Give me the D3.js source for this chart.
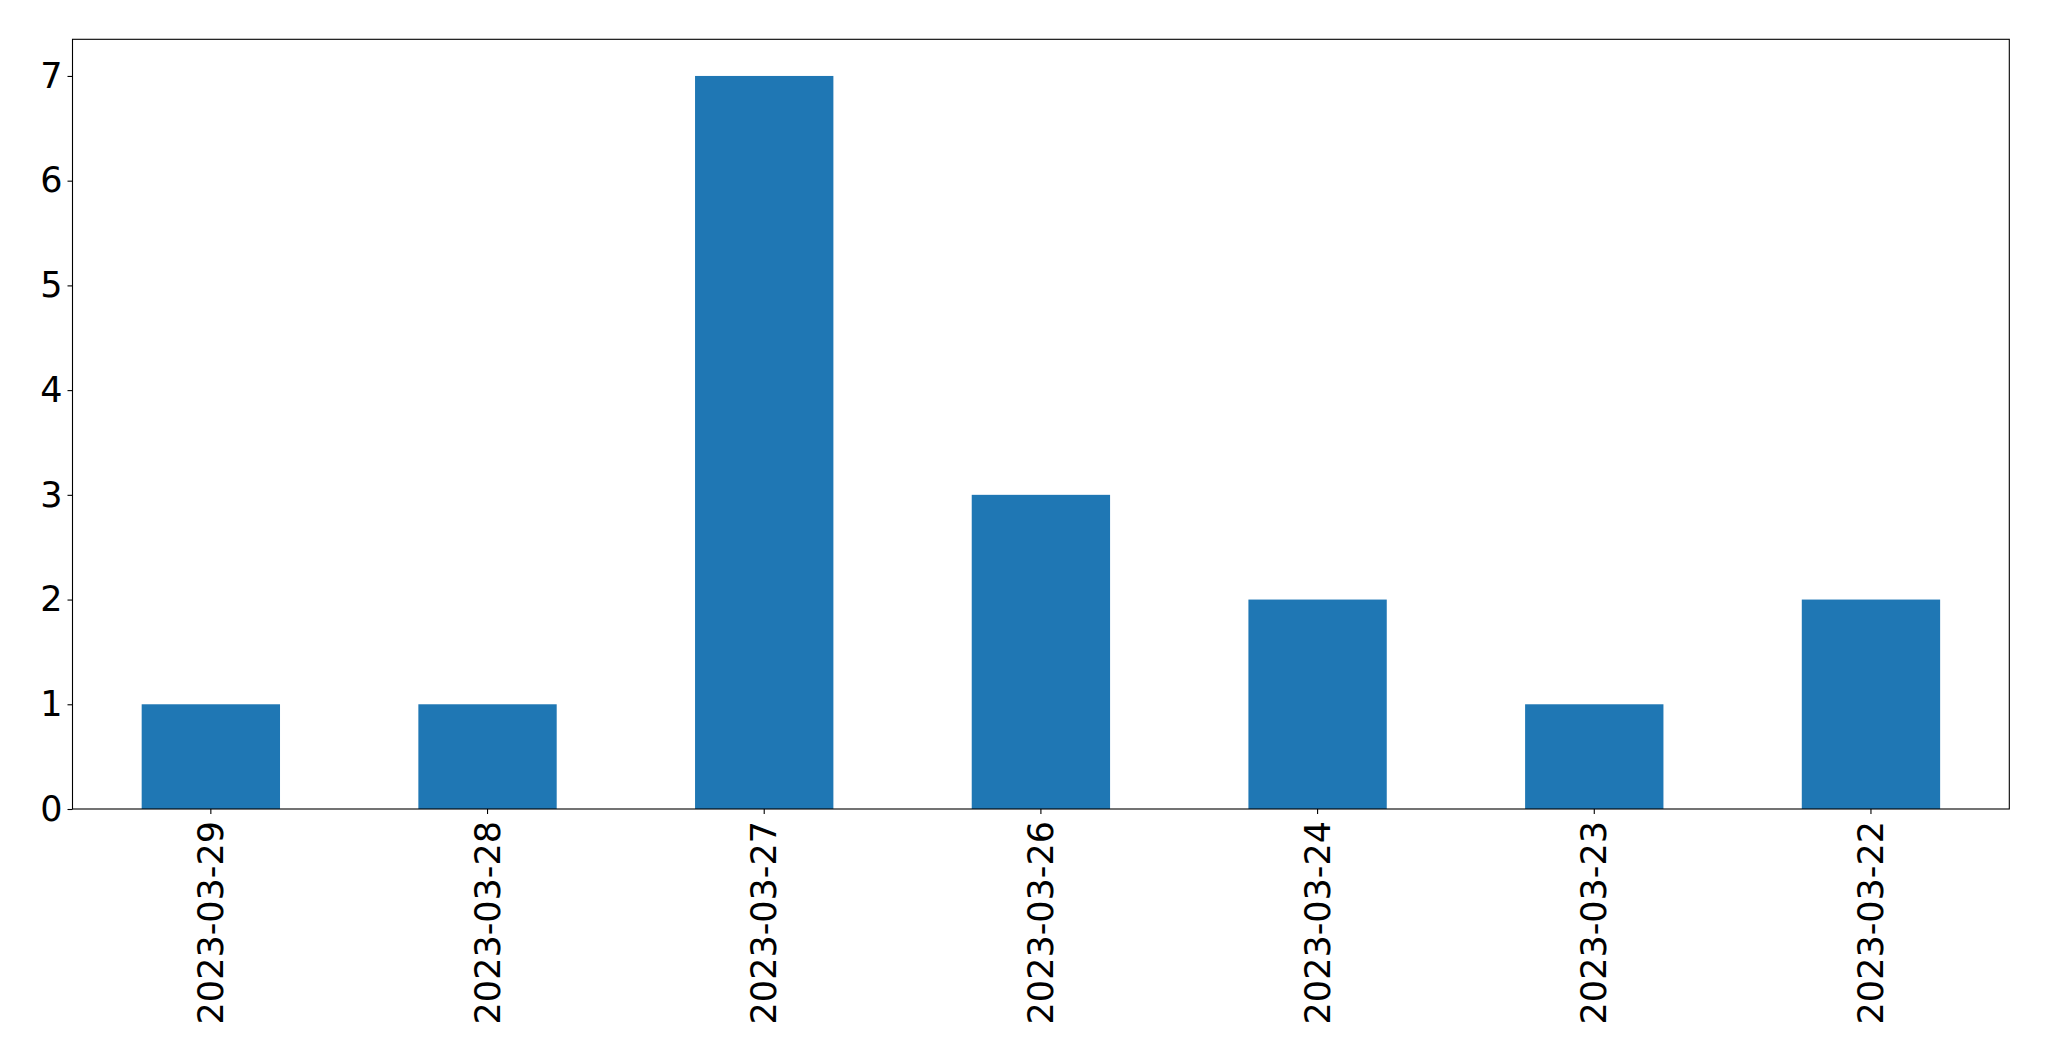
<!DOCTYPE html>
<html><head><meta charset="utf-8">
<script src="https://cdn.jsdelivr.net/npm/d3@7"></script>
<style>html,body{margin:0;padding:0;background:#fff;}svg{display:block;}</style>
</head><body>
<script>
const categories = ["2023-03-29","2023-03-28","2023-03-27","2023-03-26","2023-03-24","2023-03-23","2023-03-22"];
const values = [1,1,7,3,2,1,2];
const yTicks = [0,1,2,3,4,5,6,7];

const W = 2049, H = 1061;
const m = {left: 72.5, right: 2049 - 2009.3, top: 39.3, bottom: 1061 - 809};
const svg = d3.select("body").append("svg").attr("width", W).attr("height", H);

const x = d3.scaleBand().domain(categories).range([m.left, W - m.right]).paddingInner(0.5).paddingOuter(0.25);
const y = d3.scaleLinear().domain([0, 7.35]).range([H - m.bottom, m.top]);

const font = "DejaVu Sans";
const fs = 35;

svg.append("g").selectAll("rect").data(values).join("rect")
  .attr("x", (d,i) => x(categories[i]))
  .attr("width", x.bandwidth())
  .attr("y", d => y(d))
  .attr("height", d => y(0) - y(d))
  .attr("fill", "#1f77b4");

const yAxis = svg.append("g").attr("transform", `translate(${m.left},0)`)
  .call(d3.axisLeft(y).tickValues(yTicks).tickFormat(d3.format("d")).tickSize(5).tickPadding(5));
yAxis.select(".domain").remove();
yAxis.selectAll("text").attr("font-family", font).attr("font-size", fs).attr("fill", "#000");
yAxis.selectAll("line").attr("stroke", "#000").attr("stroke-width", 1.1);

const xAxis = svg.append("g").attr("transform", `translate(0,${H - m.bottom})`)
  .call(d3.axisBottom(x).tickSize(5).tickPadding(0));
xAxis.select(".domain").remove();
xAxis.selectAll("line").attr("stroke", "#000").attr("stroke-width", 1.1);
xAxis.selectAll("text")
  .attr("font-family", font).attr("font-size", fs).attr("fill", "#000")
  .attr("text-anchor", "end").attr("dy", null).attr("y", 0)
  .attr("dominant-baseline", "central")
  .attr("transform", "translate(0,12) rotate(-90)");

svg.append("rect")
  .attr("x", m.left).attr("y", m.top)
  .attr("width", W - m.left - m.right).attr("height", H - m.top - m.bottom)
  .attr("fill", "none").attr("stroke", "#000").attr("stroke-width", 1.1);
</script>
</body></html>
